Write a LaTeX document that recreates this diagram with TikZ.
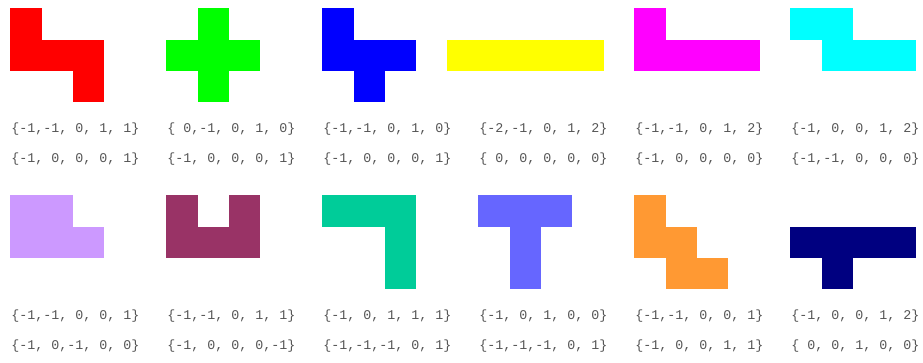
\documentclass[tikz,border=0pt]{standalone}
\usepackage{fontspec}
\setmonofont{Liberation Mono}
\definecolor{pRed}{HTML}{FF0000}
\definecolor{pGreen}{HTML}{00FF00}
\definecolor{pBlue}{HTML}{0000FF}
\definecolor{pYellow}{HTML}{FFFF00}
\definecolor{pMagenta}{HTML}{FF00FF}
\definecolor{pCyan}{HTML}{00FFFF}
\definecolor{pLavender}{HTML}{CC99FF}
\definecolor{pMaroon}{HTML}{993366}
\definecolor{pTeal}{HTML}{00CC99}
\definecolor{pPeri}{HTML}{6666FF}
\definecolor{pOrange}{HTML}{FF9933}
\definecolor{pNavy}{HTML}{000080}
\definecolor{labelgray}{HTML}{555555}
\newcommand{\cellsz}{31.4}
% #1 name, #2 colour, #3/#4 corner of the centre cell, #5 cells, #6/#7 offsets
\newcommand{\pento}[7]{%
  \begin{scope}[shift={(#3,#4)}]
    \foreach \cx/\cy in {#5}
      \fill[#2] (\cx*\cellsz,\cy*\cellsz) rectangle ++(\cellsz,\cellsz);
    \node[coords] (#1x) at (-30.5,89.5) {#6};
    \node[coords] (#1y) at (-30.5,119.5) {#7};
  \end{scope}}
\begin{document}
\begin{tikzpicture}[x=0.75pt,y=-0.75pt,
  coords/.style={anchor=west, inner sep=0pt, text=labelgray,
    font=\ttfamily\fontsize{10}{12}\selectfont}]
\useasboundingbox[fill=white] (0,0) rectangle (923,362);
\pento{red}{pRed}{41.5}{39.5}{-1/-1,-1/0,0/0,1/0,1/1}{\{-1,-1, 0, 1, 1\}}{\{-1, 0, 0, 0, 1\}}
\pento{green}{pGreen}{197.5}{39.5}{0/-1,-1/0,0/0,1/0,0/1}{\{ 0,-1, 0, 1, 0\}}{\{-1, 0, 0, 0, 1\}}
\pento{blue}{pBlue}{353.5}{39.5}{-1/-1,-1/0,0/0,1/0,0/1}{\{-1,-1, 0, 1, 0\}}{\{-1, 0, 0, 0, 1\}}
\pento{yellow}{pYellow}{509.5}{39.5}{-2/0,-1/0,0/0,1/0,2/0}{\{-2,-1, 0, 1, 2\}}{\{ 0, 0, 0, 0, 0\}}
\pento{magenta}{pMagenta}{665.5}{39.5}{-1/-1,-1/0,0/0,1/0,2/0}{\{-1,-1, 0, 1, 2\}}{\{-1, 0, 0, 0, 0\}}
\pento{cyan}{pCyan}{821.5}{39.5}{-1/-1,0/-1,0/0,1/0,2/0}{\{-1, 0, 0, 1, 2\}}{\{-1,-1, 0, 0, 0\}}
\pento{lavender}{pLavender}{41.5}{226.5}{-1/-1,-1/0,0/-1,0/0,1/0}{\{-1,-1, 0, 0, 1\}}{\{-1, 0,-1, 0, 0\}}
\pento{maroon}{pMaroon}{197.5}{226.5}{-1/-1,-1/0,0/0,1/0,1/-1}{\{-1,-1, 0, 1, 1\}}{\{-1, 0, 0, 0,-1\}}
\pento{teal}{pTeal}{353.5}{226.5}{-1/-1,0/-1,1/-1,1/0,1/1}{\{-1, 0, 1, 1, 1\}}{\{-1,-1,-1, 0, 1\}}
\pento{peri}{pPeri}{509.5}{226.5}{-1/-1,0/-1,1/-1,0/0,0/1}{\{-1, 0, 1, 0, 0\}}{\{-1,-1,-1, 0, 1\}}
\pento{orange}{pOrange}{665.5}{226.5}{-1/-1,-1/0,0/0,0/1,1/1}{\{-1,-1, 0, 0, 1\}}{\{-1, 0, 0, 1, 1\}}
\pento{navy}{pNavy}{821.5}{226.5}{-1/0,0/0,0/1,1/0,2/0}{\{-1, 0, 0, 1, 2\}}{\{ 0, 0, 1, 0, 0\}}
\end{tikzpicture}
\end{document}
